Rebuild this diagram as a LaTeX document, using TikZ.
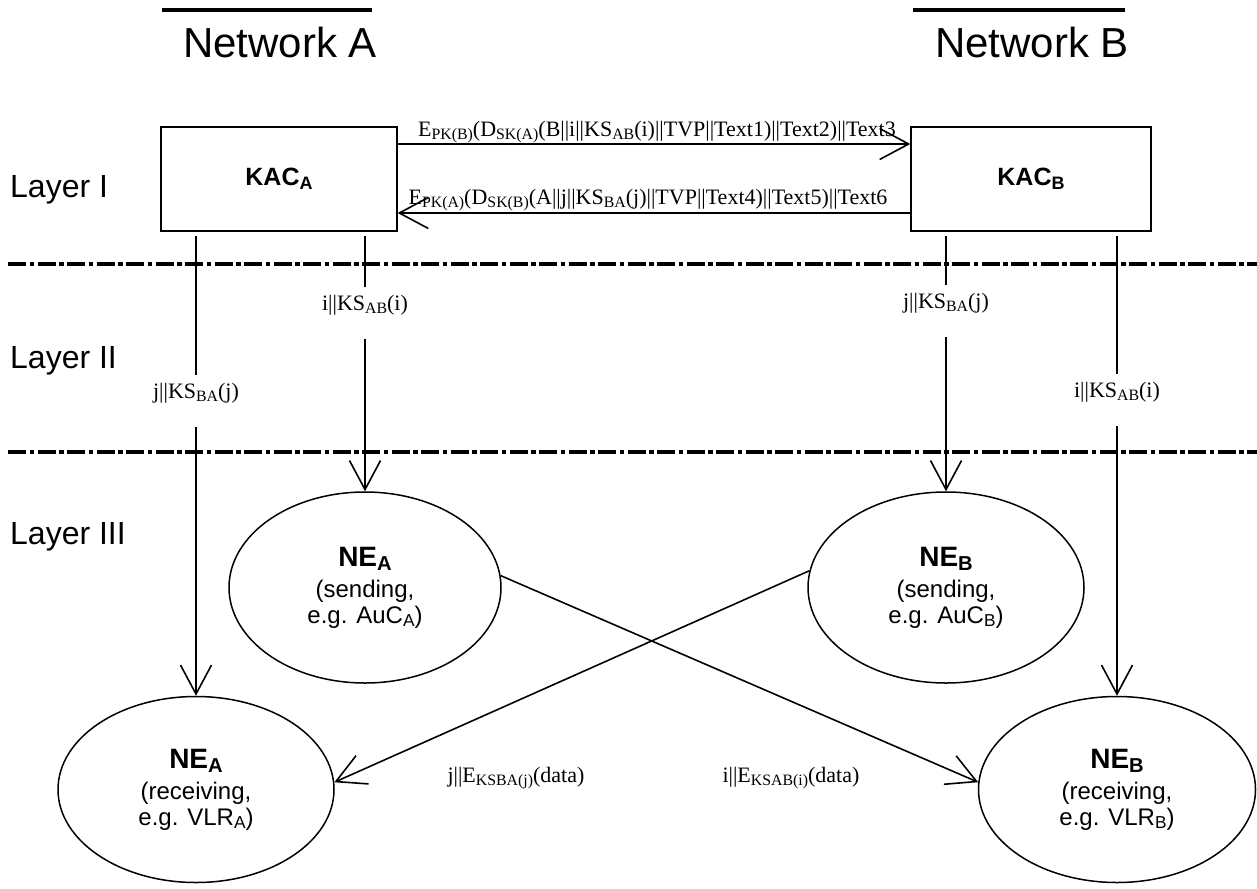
\documentclass[tikz,border=0pt]{standalone}
\usepackage{fontspec}
\setmainfont{Liberation Serif}
\setsansfont{Liberation Sans}
\usetikzlibrary{shapes.geometric,arrows.meta}

% lowered, reduced index text
\newcommand\dn[1]{\raisebox{-0.16em}{\scalebox{0.72}{#1}}}
% heading line inside a network element
\newcommand\nehead{\bfseries\fontsize{28}{28}\selectfont}

\begin{document}
\begin{tikzpicture}[x=1pt,y=-1pt,
  title/.style={font=\sffamily\fontsize{42}{42}\selectfont, inner sep=0},
  layer/.style={font=\sffamily\fontsize{32}{32}\selectfont, anchor=base west, inner sep=0},
  kac/.style={draw, line width=1.3pt, minimum height=104pt, inner sep=0,
    font=\sffamily\bfseries\fontsize{25}{25}\selectfont},
  ne/.style={draw, ellipse, line width=1.5pt, inner sep=0, align=center,
    font=\sffamily\fontsize{24}{26}\selectfont},
  msg/.style={font=\fontsize{22}{22}\selectfont, inner sep=0},
  link/.style={line width=1.6pt},
  arr/.style={link, -{Straight Barb[length=29pt,width=31pt,line width=1.6pt]}},
  layerline/.style={line width=4.5pt, dash pattern=on 18pt off 3.5pt on 4.5pt off 3.5pt},
  header/.style={line width=3.5pt}
]
\useasboundingbox (0,0) rectangle (1257,888);

% network headings
\node[title] (netA) at (280,42) {Network A};
\node[title] (netB) at (1032,42) {Network B};
\coordinate (hA1) at (162,10); \coordinate (hA2) at (372,10);
\coordinate (hB1) at (913,10); \coordinate (hB2) at (1125,10);
\draw[header] (hA1) -- (hA2);
\draw[header] (hB1) -- (hB2);

% layer names
\node[layer] (lay1) at (10,197.5) {Layer I};
\node[layer] (lay2) at (10,368) {Layer II};
\node[layer] (lay3) at (10,544) {Layer III};

% layer separators
\coordinate (s1a) at (8,264); \coordinate (s1b) at (1257,264);
\coordinate (s2a) at (8,452); \coordinate (s2b) at (1257,452);
\draw[layerline] (s1a) -- (s1b);
\draw[layerline] (s2a) -- (s2b);

% key administration centres
\node[kac, minimum width=236pt] (kacA) at (279,179) {KAC\dn{A}};
\node[kac, minimum width=240pt] (kacB) at (1031,179) {KAC\dn{B}};

% network elements
\node[ne, minimum width=272pt, minimum height=191pt] (neAs) at (365,587.5)
  {{\nehead NE\dn{A}}\\[5pt](sending,\\e.g. AuC\dn{A})};
\node[ne, minimum width=276pt, minimum height=191pt] (neBs) at (946,587.5)
  {{\nehead NE\dn{B}}\\[5pt](sending,\\e.g. AuC\dn{B})};
\node[ne, minimum width=276pt, minimum height=186pt] (neAr) at (196,789.5)
  {{\nehead NE\dn{A}}\\[5pt](receiving,\\e.g. VLR\dn{A})};
\node[ne, minimum width=277pt, minimum height=186pt] (neBr) at (1117,789.5)
  {{\nehead NE\dn{B}}\\[5pt](receiving,\\e.g. VLR\dn{B})};

% messages between the KACs
\draw[arr] ([yshift=35pt]kacA.east) -- ([yshift=35pt]kacB.west);
\draw[arr] ([yshift=-34pt]kacB.west) -- ([yshift=-34pt]kacA.east);
\node[msg, anchor=base] (m1) at (657,136)
  {E\dn{PK(B)}(D\dn{SK(A)}(B||i||KS\dn{AB}(i)||TVP||Text1)||Text2)||Text3};
\node[msg, anchor=base] (m2) at (648,204)
  {E\dn{PK(A)}(D\dn{SK(B)}(A||j||KS\dn{BA}(j)||TVP||Text4)||Text5)||Text6};

% session keys handed down to the network elements
\node[msg] (kA1) at (196,393) {j||KS\dn{BA}(j)};
\node[msg] (kA2) at (365,305) {i||KS\dn{AB}(i)};
\node[msg] (kB1) at (946,303) {j||KS\dn{BA}(j)};
\node[msg] (kB2) at (1117,392) {i||KS\dn{AB}(i)};

\draw[link, shorten <=4pt, shorten >=8pt] (kacA.south -| kA1) -- (kA1);
\draw[arr, shorten <=24pt] (kA1) -- (neAr);
\draw[link, shorten <=4pt, shorten >=8pt] (kacA.south -| kA2) -- (kA2);
\draw[arr, shorten <=24pt] (kA2) -- (neAs);
\draw[link, shorten <=4pt, shorten >=8pt] (kacB.south -| kB1) -- (kB1);
\draw[arr, shorten <=24pt] (kB1) -- (neBs);
\draw[link, shorten <=4pt, shorten >=8pt] (kacB.south -| kB2) -- (kB2);
\draw[arr, shorten <=24pt] (kB2) -- (neBr);

% encrypted data between the networks
\draw[arr] (neAs.5) -- (neBr.177);
\draw[arr] (neBs.173) -- (neAr.3);
\node[msg, anchor=base] (dA) at (516,782) {j||E\dn{KSBA(j)}(data)};
\node[msg, anchor=base] (dB) at (791,782) {i||E\dn{KSAB(i)}(data)};
\end{tikzpicture}
\end{document}
